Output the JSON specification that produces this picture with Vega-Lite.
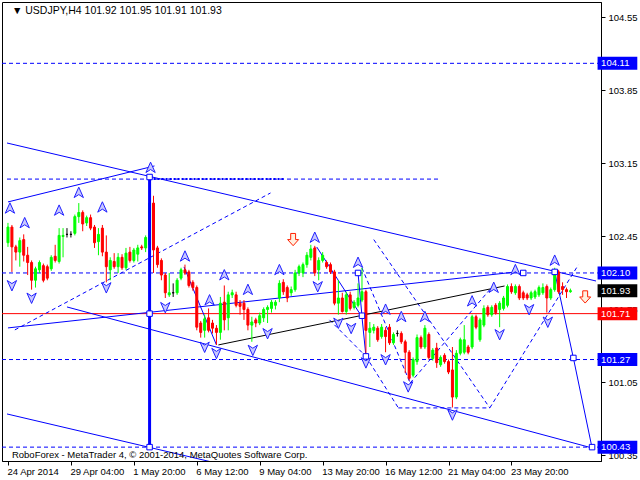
{
  "$schema": "https://vega.github.io/schema/vega-lite/v6.json",
  "width": 599,
  "height": 459,
  "autosize": {"type": "none"},
  "padding": {"left": 2, "top": 2, "right": 39, "bottom": 19},
  "background": "white",
  "config": {
    "view": {"stroke": "black", "strokeWidth": 1},
    "font": "Liberation Sans",
    "axis": {"title": null, "grid": false, "labelColor": "#000000", "tickColor": "#000000", "domainColor": "#000000", "labelFont": "Liberation Sans", "labelFontSize": 9.5, "tickSize": 4, "labelOverlap": false, "labelFlush": false}
  },
  "datasets": {
    "candles": [
      {"i":0,"o":102.39,"h":102.58,"l":102.35,"c":102.54},
      {"i":1,"o":102.54,"h":102.56,"l":102.11,"c":102.35},
      {"i":2,"o":102.35,"h":102.37,"l":102.22,"c":102.30},
      {"i":3,"o":102.30,"h":102.44,"l":102.16,"c":102.41},
      {"i":4,"o":102.42,"h":102.47,"l":102.21,"c":102.27},
      {"i":5,"o":102.27,"h":102.35,"l":102.08,"c":102.20},
      {"i":6,"o":102.20,"h":102.22,"l":101.94,"c":102.03},
      {"i":7,"o":102.03,"h":102.16,"l":101.96,"c":102.14},
      {"i":8,"o":102.13,"h":102.22,"l":102.10,"c":102.20},
      {"i":9,"o":102.17,"h":102.19,"l":102.01,"c":102.03},
      {"i":10,"o":102.16,"h":102.18,"l":102.03,"c":102.05},
      {"i":11,"o":102.14,"h":102.27,"l":102.12,"c":102.25},
      {"i":12,"o":102.26,"h":102.37,"l":102.20,"c":102.22},
      {"i":13,"o":102.21,"h":102.53,"l":102.19,"c":102.46},
      {"i":14,"o":102.45,"h":102.53,"l":102.25,"c":102.46},
      {"i":15,"o":102.47,"h":102.53,"l":102.44,"c":102.47},
      {"i":16,"o":102.47,"h":102.50,"l":102.44,"c":102.47},
      {"i":17,"o":102.48,"h":102.66,"l":102.46,"c":102.64},
      {"i":18,"o":102.64,"h":102.77,"l":102.58,"c":102.68},
      {"i":19,"o":102.68,"h":102.70,"l":102.50,"c":102.57},
      {"i":20,"o":102.58,"h":102.65,"l":102.55,"c":102.63},
      {"i":21,"o":102.63,"h":102.66,"l":102.51,"c":102.53},
      {"i":22,"o":102.54,"h":102.56,"l":102.34,"c":102.39},
      {"i":23,"o":102.40,"h":102.53,"l":102.27,"c":102.47},
      {"i":24,"o":102.53,"h":102.56,"l":102.26,"c":102.30},
      {"i":25,"o":102.30,"h":102.46,"l":102.01,"c":102.16},
      {"i":26,"o":102.13,"h":102.25,"l":102.03,"c":102.22},
      {"i":27,"o":102.21,"h":102.29,"l":102.14,"c":102.16},
      {"i":28,"o":102.16,"h":102.29,"l":102.10,"c":102.25},
      {"i":29,"o":102.25,"h":102.28,"l":102.13,"c":102.15},
      {"i":30,"o":102.15,"h":102.34,"l":102.13,"c":102.29},
      {"i":31,"o":102.30,"h":102.35,"l":102.20,"c":102.22},
      {"i":32,"o":102.22,"h":102.34,"l":102.20,"c":102.32},
      {"i":33,"o":102.28,"h":102.37,"l":102.21,"c":102.34},
      {"i":34,"o":102.35,"h":102.37,"l":102.32,"c":102.34},
      {"i":35,"o":102.34,"h":102.46,"l":102.30,"c":102.44},
      {"i":36,"o":102.37,"h":103.02,"l":102.35,"c":102.77},
      {"i":37,"o":102.77,"h":102.84,"l":102.10,"c":102.32},
      {"i":38,"o":102.34,"h":102.36,"l":102.15,"c":102.18},
      {"i":39,"o":102.22,"h":102.24,"l":102.03,"c":102.08},
      {"i":40,"o":102.08,"h":102.10,"l":101.86,"c":101.91},
      {"i":41,"o":101.89,"h":102.10,"l":101.87,"c":101.91},
      {"i":42,"o":101.91,"h":102.00,"l":101.87,"c":101.91},
      {"i":43,"o":101.91,"h":102.05,"l":101.89,"c":102.03},
      {"i":44,"o":102.05,"h":102.15,"l":102.03,"c":102.13},
      {"i":45,"o":102.13,"h":102.18,"l":102.08,"c":102.10},
      {"i":46,"o":102.11,"h":102.13,"l":101.96,"c":101.98},
      {"i":47,"o":102.01,"h":102.03,"l":101.93,"c":101.96},
      {"i":48,"o":101.96,"h":101.98,"l":101.55,"c":101.58},
      {"i":49,"o":101.62,"h":101.64,"l":101.48,"c":101.53},
      {"i":50,"o":101.55,"h":101.70,"l":101.48,"c":101.66},
      {"i":51,"o":101.67,"h":101.76,"l":101.53,"c":101.55},
      {"i":52,"o":101.62,"h":101.65,"l":101.52,"c":101.57},
      {"i":53,"o":101.57,"h":101.60,"l":101.41,"c":101.53},
      {"i":54,"o":101.53,"h":101.87,"l":101.46,"c":101.81},
      {"i":55,"o":101.82,"h":101.98,"l":101.55,"c":101.65},
      {"i":56,"o":101.67,"h":101.92,"l":101.55,"c":101.89},
      {"i":57,"o":101.89,"h":101.94,"l":101.86,"c":101.91},
      {"i":58,"o":101.89,"h":101.92,"l":101.77,"c":101.79},
      {"i":59,"o":101.81,"h":101.84,"l":101.70,"c":101.78},
      {"i":60,"o":101.81,"h":101.84,"l":101.65,"c":101.75},
      {"i":61,"o":101.75,"h":101.77,"l":101.55,"c":101.60},
      {"i":62,"o":101.60,"h":101.68,"l":101.44,"c":101.63},
      {"i":63,"o":101.65,"h":101.67,"l":101.58,"c":101.62},
      {"i":64,"o":101.62,"h":101.72,"l":101.60,"c":101.69},
      {"i":65,"o":101.67,"h":101.77,"l":101.63,"c":101.75},
      {"i":66,"o":101.75,"h":101.79,"l":101.62,"c":101.77},
      {"i":67,"o":101.76,"h":101.84,"l":101.72,"c":101.82},
      {"i":68,"o":101.79,"h":101.84,"l":101.75,"c":101.82},
      {"i":69,"o":101.86,"h":102.03,"l":101.82,"c":102.00},
      {"i":70,"o":102.01,"h":102.04,"l":101.89,"c":101.92},
      {"i":71,"o":101.96,"h":101.98,"l":101.82,"c":101.86},
      {"i":72,"o":101.91,"h":101.97,"l":101.88,"c":101.94},
      {"i":73,"o":101.94,"h":102.13,"l":101.92,"c":102.10},
      {"i":74,"o":102.10,"h":102.18,"l":102.07,"c":102.16},
      {"i":75,"o":102.10,"h":102.20,"l":102.06,"c":102.18},
      {"i":76,"o":102.18,"h":102.30,"l":102.15,"c":102.27},
      {"i":77,"o":102.25,"h":102.37,"l":102.22,"c":102.33},
      {"i":78,"o":102.34,"h":102.36,"l":102.07,"c":102.10},
      {"i":79,"o":102.13,"h":102.25,"l":102.03,"c":102.22},
      {"i":80,"o":102.22,"h":102.30,"l":102.20,"c":102.27},
      {"i":81,"o":102.20,"h":102.22,"l":102.14,"c":102.16},
      {"i":82,"o":102.18,"h":102.20,"l":102.09,"c":102.11},
      {"i":83,"o":102.11,"h":102.13,"l":101.79,"c":101.81},
      {"i":84,"o":101.81,"h":102.03,"l":101.70,"c":101.86},
      {"i":85,"o":101.86,"h":101.91,"l":101.72,"c":101.73},
      {"i":86,"o":101.73,"h":101.92,"l":101.70,"c":101.89},
      {"i":87,"o":101.89,"h":101.92,"l":101.74,"c":101.76},
      {"i":88,"o":101.77,"h":101.84,"l":101.75,"c":101.82},
      {"i":89,"o":101.79,"h":102.00,"l":101.77,"c":101.86},
      {"i":90,"o":101.84,"h":102.15,"l":101.82,"c":101.92},
      {"i":91,"o":101.92,"h":101.94,"l":101.31,"c":101.55},
      {"i":92,"o":101.53,"h":101.63,"l":101.39,"c":101.57},
      {"i":93,"o":101.55,"h":101.61,"l":101.52,"c":101.58},
      {"i":94,"o":101.57,"h":101.59,"l":101.44,"c":101.46},
      {"i":95,"o":101.49,"h":101.61,"l":101.47,"c":101.58},
      {"i":96,"o":101.55,"h":101.58,"l":101.34,"c":101.49},
      {"i":97,"o":101.58,"h":101.61,"l":101.41,"c":101.43},
      {"i":98,"o":101.43,"h":101.53,"l":101.41,"c":101.51},
      {"i":99,"o":101.52,"h":101.55,"l":101.49,"c":101.52},
      {"i":100,"o":101.52,"h":101.54,"l":101.42,"c":101.44},
      {"i":101,"o":101.44,"h":101.46,"l":101.14,"c":101.34},
      {"i":102,"o":101.34,"h":101.36,"l":101.07,"c":101.09},
      {"i":103,"o":101.12,"h":101.29,"l":101.10,"c":101.27},
      {"i":104,"o":101.25,"h":101.51,"l":101.22,"c":101.48},
      {"i":105,"o":101.48,"h":101.50,"l":101.37,"c":101.39},
      {"i":106,"o":101.39,"h":101.60,"l":101.37,"c":101.57},
      {"i":107,"o":101.51,"h":101.53,"l":101.27,"c":101.29},
      {"i":108,"o":101.28,"h":101.38,"l":101.26,"c":101.36},
      {"i":109,"o":101.38,"h":101.43,"l":101.19,"c":101.24},
      {"i":110,"o":101.22,"h":101.31,"l":101.20,"c":101.29},
      {"i":111,"o":101.31,"h":101.33,"l":101.23,"c":101.25},
      {"i":112,"o":101.25,"h":101.27,"l":101.13,"c":101.15},
      {"i":113,"o":101.17,"h":101.39,"l":100.81,"c":100.91},
      {"i":114,"o":100.91,"h":101.36,"l":100.89,"c":101.33},
      {"i":115,"o":101.33,"h":101.48,"l":101.31,"c":101.46},
      {"i":116,"o":101.34,"h":101.60,"l":101.32,"c":101.46},
      {"i":117,"o":101.39,"h":101.41,"l":101.32,"c":101.34},
      {"i":118,"o":101.39,"h":101.70,"l":101.37,"c":101.68},
      {"i":119,"o":101.68,"h":101.70,"l":101.56,"c":101.58},
      {"i":120,"o":101.46,"h":101.67,"l":101.44,"c":101.65},
      {"i":121,"o":101.60,"h":101.79,"l":101.58,"c":101.76},
      {"i":122,"o":101.77,"h":101.79,"l":101.68,"c":101.70},
      {"i":123,"o":101.70,"h":101.79,"l":101.68,"c":101.77},
      {"i":124,"o":101.79,"h":101.81,"l":101.70,"c":101.72},
      {"i":125,"o":101.75,"h":101.83,"l":101.58,"c":101.81},
      {"i":126,"o":101.76,"h":101.88,"l":101.74,"c":101.86},
      {"i":127,"o":101.79,"h":101.99,"l":101.77,"c":101.97},
      {"i":128,"o":101.97,"h":102.00,"l":101.90,"c":101.92},
      {"i":129,"o":101.91,"h":101.99,"l":101.89,"c":101.97},
      {"i":130,"o":101.97,"h":101.99,"l":101.84,"c":101.86},
      {"i":131,"o":101.91,"h":101.93,"l":101.84,"c":101.86},
      {"i":132,"o":101.89,"h":101.91,"l":101.84,"c":101.86},
      {"i":133,"o":101.86,"h":101.93,"l":101.84,"c":101.91},
      {"i":134,"o":101.87,"h":101.94,"l":101.85,"c":101.92},
      {"i":135,"o":101.89,"h":101.98,"l":101.87,"c":101.96},
      {"i":136,"o":101.91,"h":102.00,"l":101.89,"c":101.96},
      {"i":137,"o":101.97,"h":101.99,"l":101.72,"c":101.86},
      {"i":138,"o":101.86,"h":101.96,"l":101.84,"c":101.94},
      {"i":139,"o":101.94,"h":102.15,"l":101.92,"c":102.13},
      {"i":140,"o":102.11,"h":102.13,"l":101.90,"c":101.92},
      {"i":141,"o":101.97,"h":102.01,"l":101.89,"c":101.94},
      {"i":142,"o":101.94,"h":101.96,"l":101.86,"c":101.92},
      {"i":143,"o":101.92,"h":101.95,"l":101.91,"c":101.93}
    ],
    "hdash": [{"p":104.11},{"p":102.10},{"p":101.27},{"p":100.43}],
    "hred": [{"p":101.71}],
    "solid": [
      {"x1":-0.25,"p1":103.346,"x2":149.5,"p2":102.023},
      {"x1":0,"p1":102.781,"x2":37.25,"p2":103.126},
      {"x1":-0.25,"p1":100.748,"x2":51.75,"p2":100.288},
      {"x1":15,"p1":101.774,"x2":148.5,"p2":100.422},
      {"x1":0,"p1":101.573,"x2":129.25,"p2":102.110},
      {"x1":139,"p1":102.11,"x2":143.75,"p2":101.285},
      {"x1":143.75,"p1":101.285,"x2":148.5,"p2":100.422},
      {"x1":44.75,"p1":102.158,"x2":53,"p2":101.41},
      {"x1":78.5,"p1":102.349,"x2":90,"p2":101.678},
      {"x1":90,"p1":101.678,"x2":91,"p2":101.304},
      {"x1":89,"p1":102.10,"x2":90,"p2":101.688}
    ],
    "black": [{"x1":53.5,"p1":101.41,"x2":126.25,"p2":101.975}],
    "dashed": [
      {"x1":1.75,"p1":101.554,"x2":66.75,"p2":102.867},
      {"x1":-0.25,"p1":103.0,"x2":110,"p2":103.0},
      {"x1":93,"p1":102.42,"x2":122.5,"p2":100.806},
      {"x1":90,"p1":102.148,"x2":102.25,"p2":101.045},
      {"x1":102.25,"p1":101.045,"x2":123.5,"p2":101.985},
      {"x1":81.75,"p1":101.65,"x2":91,"p2":101.30},
      {"x1":91,"p1":101.30,"x2":99.25,"p2":100.806},
      {"x1":99.25,"p1":100.806,"x2":122.5,"p2":100.806},
      {"x1":122.5,"p1":100.806,"x2":145,"p2":102.177}
    ],
    "dotted": [{"x1":36,"p1":103.0,"x2":70.5,"p2":103.0}],
    "vert": [{"x1":36,"p1":103.02,"x2":36,"p2":100.43}],
    "squares": [
      {"i":36,"p":103.02},{"i":36,"p":101.71},{"i":36,"p":100.43},
      {"i":89,"p":102.10},{"i":90,"p":101.69},{"i":91,"p":101.30},
      {"i":131,"p":102.10},{"i":139,"p":102.11},{"i":143.75,"p":101.285},{"i":148.5,"p":100.43}
    ],
    "up": [
      {"i":0.5,"p":102.72},{"i":4.25,"p":102.58},{"i":13,"p":102.70},{"i":18,"p":102.87},
      {"i":24,"p":102.73},{"i":36.25,"p":103.11},{"i":45,"p":102.26},{"i":51.25,"p":101.84},
      {"i":55,"p":102.08},{"i":61,"p":101.94},{"i":69,"p":102.13},{"i":78,"p":102.44},
      {"i":89,"p":102.20},{"i":96,"p":101.75},{"i":100,"p":101.68},{"i":106,"p":101.68},
      {"i":118,"p":101.83},{"i":123.5,"p":101.96},{"i":129,"p":102.13},{"i":139,"p":102.22}
    ],
    "down": [
      {"i":1,"p":101.98},{"i":6,"p":101.86},{"i":25,"p":101.96},{"i":40,"p":101.77},
      {"i":50,"p":101.39},{"i":53,"p":101.33},{"i":62.25,"p":101.36},{"i":66,"p":101.52},
      {"i":78.75,"p":101.97},{"i":84,"p":101.62},{"i":87.25,"p":101.57},{"i":91,"p":101.24},
      {"i":96,"p":101.27},{"i":101.75,"p":101.01},{"i":113,"p":100.74},{"i":125,"p":101.51},
      {"i":132.5,"p":101.75},{"i":137.25,"p":101.63}
    ],
    "redarrows": [{"i":72.5,"p":102.42},{"i":146.75,"p":101.87}],
    "boxes": [
      {"p":104.11,"label":"104.11","kind":"blue"},
      {"p":102.10,"label":"102.10","kind":"blue"},
      {"p":101.93,"label":"101.93","kind":"black"},
      {"p":101.71,"label":"101.71","kind":"red"},
      {"p":101.27,"label":"101.27","kind":"blue"},
      {"p":100.43,"label":"100.43","kind":"blue"}
    ],
    "texts": [
      {"i":1,"p":104.612,"t":"▼ USDJPY,H4  101.92 101.95 101.91 101.93","s":"title"},
      {"i":1,"p":100.355,"t":"RoboForex - MetaTrader 4, © 2001-2014, MetaQuotes Software Corp.","s":"foot"}
    ]
  },
  "layer": [
    {
      "data": {"name": "candles"},
      "mark": {"type": "rule", "strokeWidth": 1, "opacity": 0},
      "encoding": {
        "x": {
          "field": "i", "type": "quantitative",
          "scale": {"domain": [-0.25, 149.5], "nice": false, "zero": false},
          "axis": {
            "orient": "bottom", "values": [0, 16, 32, 48, 64, 80, 96, 112, 128],
            "labelExpr": "datum.value == 0 ? '24 Apr 2014' : datum.value == 16 ? '29 Apr 04:00' : datum.value == 32 ? '1 May 20:00' : datum.value == 48 ? '6 May 12:00' : datum.value == 64 ? '9 May 04:00' : datum.value == 80 ? '13 May 20:00' : datum.value == 96 ? '16 May 12:00' : datum.value == 112 ? '21 May 04:00' : '23 May 20:00'",
            "labelAlign": "left", "labelBaseline": "middle", "labelPadding": 6, "labelOffset": -1, "title": null
          }
        },
        "y": {
          "field": "l", "type": "quantitative",
          "scale": {"domain": [100.297, 104.698], "nice": false, "zero": false},
          "axis": {
            "orient": "right", "values": [100.35, 100.70, 101.05, 101.40, 101.75, 102.10, 102.45, 102.80, 103.15, 103.50, 103.85, 104.20, 104.55],
            "format": ".2f", "labelPadding": 3, "title": null
          }
        },
        "y2": {"field": "h"}
      }
    },
    {
      "data": {"name": "hdash"},
      "mark": {"type": "rule", "color": "#0000ff", "strokeDash": [4, 3], "strokeWidth": 1},
      "encoding": {
        "y": {"field": "p", "type": "quantitative"}
      }
    },
    {
      "data": {"name": "hred"},
      "mark": {"type": "rule", "color": "#ff0000", "strokeWidth": 1},
      "encoding": {
        "y": {"field": "p", "type": "quantitative"}
      }
    },
    {
      "data": {"name": "dashed"},
      "mark": {"type": "rule", "color": "#0000ff", "strokeDash": [4, 3], "strokeWidth": 1, "clip": true},
      "encoding": {
        "x": {"field": "x1", "type": "quantitative"},
        "x2": {"field": "x2"},
        "y": {"field": "p1", "type": "quantitative"},
        "y2": {"field": "p2"}
      }
    },
    {
      "data": {"name": "dotted"},
      "mark": {"type": "rule", "color": "#0000ff", "strokeDash": [2, 2], "strokeWidth": 2, "clip": true},
      "encoding": {
        "x": {"field": "x1", "type": "quantitative"},
        "x2": {"field": "x2"},
        "y": {"field": "p1", "type": "quantitative"},
        "y2": {"field": "p2"}
      }
    },
    {
      "data": {"name": "solid"},
      "mark": {"type": "rule", "color": "#0000ff", "strokeWidth": 1, "clip": true},
      "encoding": {
        "x": {"field": "x1", "type": "quantitative"},
        "x2": {"field": "x2"},
        "y": {"field": "p1", "type": "quantitative"},
        "y2": {"field": "p2"}
      }
    },
    {
      "data": {"name": "black"},
      "mark": {"type": "rule", "color": "#000000", "strokeWidth": 1, "clip": true},
      "encoding": {
        "x": {"field": "x1", "type": "quantitative"},
        "x2": {"field": "x2"},
        "y": {"field": "p1", "type": "quantitative"},
        "y2": {"field": "p2"}
      }
    },
    {
      "data": {"name": "candles"},
      "mark": {"type": "rule", "strokeWidth": 1},
      "encoding": {
        "x": {"field": "i", "type": "quantitative"},
        "y": {"field": "l", "type": "quantitative"},
        "y2": {"field": "h"},
        "color": {
          "condition": [
            {"test": "datum.c > datum.o", "value": "#00ff00"},
            {"test": "datum.c < datum.o", "value": "#ff0000"}
          ],
          "value": "#000000"
        }
      }
    },
    {
      "data": {"name": "candles"},
      "mark": {"type": "bar", "size": 2, "strokeWidth": 1},
      "encoding": {
        "x": {"field": "i", "type": "quantitative"},
        "y": {"field": "o", "type": "quantitative"},
        "y2": {"field": "c"},
        "color": {
          "condition": [
            {"test": "datum.c > datum.o", "value": "#00ff00"},
            {"test": "datum.c < datum.o", "value": "#ff0000"}
          ],
          "value": "#000000"
        },
        "stroke": {
          "condition": [
            {"test": "datum.c > datum.o", "value": "#00ff00"},
            {"test": "datum.c < datum.o", "value": "#ff0000"}
          ],
          "value": "#000000"
        }
      }
    },
    {
      "data": {"name": "vert"},
      "mark": {"type": "rule", "color": "#0000ff", "strokeWidth": 3},
      "encoding": {
        "x": {"field": "x1", "type": "quantitative"},
        "y": {"field": "p1", "type": "quantitative"},
        "y2": {"field": "p2"}
      }
    },
    {
      "data": {"name": "squares"},
      "mark": {"type": "point", "shape": "square", "size": 30, "filled": false, "fill": "white", "fillOpacity": 1, "stroke": "#0000ff", "strokeWidth": 1, "opacity": 1},
      "encoding": {
        "x": {"field": "i", "type": "quantitative"},
        "y": {"field": "p", "type": "quantitative"}
      }
    },
    {
      "data": {"name": "up"},
      "mark": {"type": "point", "shape": "M0,-1 L0.85,0.9 L0,0.35 L-0.85,0.9 Z", "size": 120, "filled": true, "fill": "#c8c8ff", "stroke": "#2020ff", "strokeWidth": 1, "opacity": 1},
      "encoding": {
        "x": {"field": "i", "type": "quantitative"},
        "y": {"field": "p", "type": "quantitative"}
      }
    },
    {
      "data": {"name": "down"},
      "mark": {"type": "point", "shape": "M0,1 L0.85,-0.9 L0,-0.35 L-0.85,-0.9 Z", "size": 120, "filled": true, "fill": "#c8c8ff", "stroke": "#2020ff", "strokeWidth": 1, "opacity": 1},
      "encoding": {
        "x": {"field": "i", "type": "quantitative"},
        "y": {"field": "p", "type": "quantitative"}
      }
    },
    {
      "data": {"name": "redarrows"},
      "mark": {"type": "point", "shape": "M-0.4,-1 L0.4,-1 L0.4,0 L0.9,0 L0,1 L-0.9,0 L-0.4,0 Z", "size": 150, "filled": true, "fill": "#fff0e0", "stroke": "#ff2000", "strokeWidth": 1, "opacity": 1},
      "encoding": {
        "x": {"field": "i", "type": "quantitative"},
        "y": {"field": "p", "type": "quantitative"}
      }
    },
    {
      "data": {"name": "boxes"},
      "mark": {"type": "rect", "clip": false, "yOffset": -6.5, "y2Offset": 6.5},
      "encoding": {
        "x": {"datum": 149.9, "type": "quantitative"},
        "x2": {"datum": 160},
        "y": {"field": "p", "type": "quantitative"},
        "y2": {"field": "p"},
        "color": {
          "field": "kind", "type": "nominal", "legend": null,
          "scale": {"domain": ["blue", "black", "red"], "range": ["#0000ff", "#000000", "#ff0000"]}
        }
      }
    },
    {
      "data": {"name": "boxes"},
      "mark": {"type": "text", "clip": false, "align": "left", "baseline": "middle", "color": "white", "fontSize": 9.5, "font": "Liberation Sans"},
      "encoding": {
        "x": {"datum": 150.8, "type": "quantitative"},
        "y": {"field": "p", "type": "quantitative"},
        "text": {"field": "label"}
      }
    },
    {
      "data": {"name": "texts"},
      "mark": {"type": "text", "align": "left", "baseline": "middle", "color": "black", "font": "Liberation Sans"},
      "encoding": {
        "x": {"field": "i", "type": "quantitative"},
        "y": {"field": "p", "type": "quantitative"},
        "text": {"field": "t"},
        "size": {
          "field": "s", "type": "nominal", "legend": null,
          "scale": {"domain": ["title", "foot"], "range": [10.5, 9.5]}
        }
      }
    }
  ]
}
